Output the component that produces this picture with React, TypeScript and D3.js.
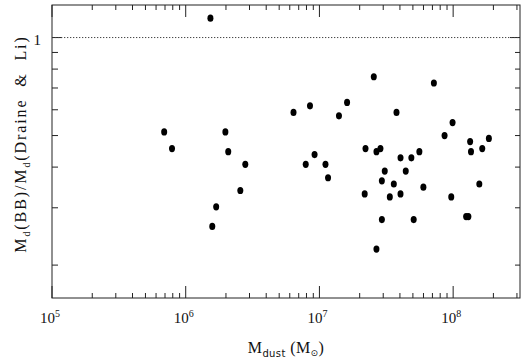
import * as d3 from "d3";

// dust mass (Msun) and ratio M_d(BB)/M_d(Draine & Li)
const mdust = [
  6.9e5, 7.9e5, 1.53e6, 1.98e6, 2.08e6, 2.79e6, 2.56e6, 1.69e6, 1.58e6,
  6.4e6, 8.5e6, 9.2e6, 7.9e6, 1.11e7, 1.16e7, 1.4e7, 1.61e7, 2.55e7,
  2.21e7, 2.67e7, 2.86e7, 4.04e7, 4.87e7, 5.59e7, 3.08e7, 4.42e7, 2.93e7,
  3.6e7, 2.18e7, 3.36e7, 4.04e7, 5.99e7, 2.93e7, 5.07e7, 2.67e7, 3.77e7,
  7.18e7, 8.63e7, 9.9e7, 1.34e8, 1.36e8, 1.65e8, 1.85e8, 1.57e8, 9.68e7,
  1.25e8, 1.3e8,
];
const ratio = [
  0.513, 0.456, 1.147, 0.513, 0.446, 0.408, 0.339, 0.302, 0.263,
  0.589, 0.617, 0.437, 0.408, 0.408, 0.371, 0.575, 0.632, 0.758,
  0.456, 0.446, 0.456, 0.427, 0.427, 0.446, 0.389, 0.389, 0.363,
  0.355, 0.331, 0.324, 0.331, 0.347, 0.276, 0.276, 0.224, 0.589,
  0.725, 0.5, 0.548, 0.479, 0.446, 0.456, 0.49, 0.355, 0.324,
  0.282, 0.282,
];

const xMajor = [1e5, 1e6, 1e7, 1e8];
const xExp = ["5", "6", "7", "8"];
const yMinor = [0.2, 0.3, 0.4, 0.5, 0.6, 0.7, 0.8, 0.9];
const yMajor = [1];

const W = 527;
const H = 362;
const left = 52, right = 520, top = 5, bottom = 298;
const font = "'Liberation Serif', 'DejaVu Serif', serif";

export default function App() {
  const x = d3.scaleLog().domain([1e5, Math.pow(10, 8.5)]).range([left, right]);
  const y = d3.scaleLog().domain([Math.pow(10, -0.8), Math.pow(10, 0.1)]).range([bottom, top]);

  const xAll = x.ticks().filter((t) => t >= 1e5 && t <= Math.pow(10, 8.5));
  const isMajor = (t: number) => xMajor.some((m) => Math.abs(m - t) / m < 1e-6);

  const stroke = "#222";

  return (
    <svg width={W} height={H} style={{ position: "absolute", left: 0, top: 0, background: "#fff" }}>
      {/* x ticks, bottom and top */}
      {xAll.map((t, i) => {
        const len = isMajor(t) ? 12 : 5;
        const px = x(t);
        return (
          <g key={"xt" + i} stroke={stroke} strokeWidth={1}>
            <line x1={px} x2={px} y1={bottom} y2={bottom - len} />
            <line x1={px} x2={px} y1={top} y2={top + len} />
          </g>
        );
      })}
      {/* y ticks, left and right */}
      {yMinor.map((t, i) => (
        <g key={"ym" + i} stroke={stroke} strokeWidth={1}>
          <line x1={left} x2={left + 6} y1={y(t)} y2={y(t)} />
          <line x1={right} x2={right - 5} y1={y(t)} y2={y(t)} />
        </g>
      ))}
      {yMajor.map((t, i) => (
        <g key={"yM" + i} stroke={stroke} strokeWidth={1}>
          <line x1={left} x2={left + 10} y1={y(t)} y2={y(t)} />
          <line x1={right} x2={right - 10} y1={y(t)} y2={y(t)} />
        </g>
      ))}

      {/* dotted line at ratio = 1 */}
      <line
        x1={left}
        x2={right}
        y1={y(1)}
        y2={y(1)}
        stroke="#444"
        strokeWidth={1}
        strokeDasharray="1.3 1.7"
      />

      {/* frame */}
      <rect x={left} y={top} width={right - left} height={bottom - top} fill="none" stroke={stroke} strokeWidth={1} />

      {/* points */}
      {mdust.map((m, i) => (
        <ellipse key={"p" + i} cx={x(m)} cy={y(ratio[i])} rx={3} ry={3.6} fill="#000" />
      ))}

      {/* x tick labels */}
      {xMajor.map((t, i) => (
        <text key={"xl" + i} x={x(t) - 2} y={323} textAnchor="middle" fontFamily={font} fontSize={15} fill="#111">
          10
          <tspan fontSize={10} dy={-6}>{xExp[i]}</tspan>
        </text>
      ))}
      {/* y tick label */}
      {yMajor.map((t, i) => (
        <text key={"yl" + i} x={41} y={y(t) + 7} textAnchor="end" fontFamily={font} fontSize={15} fill="#111">
          {t}
        </text>
      ))}

      {/* x axis title */}
      <text x={286} y={353} textAnchor="middle" fontFamily={font} fontSize={16} fill="#111" letterSpacing={0.4}>
        M
        <tspan fontSize={10} dy={4} fontFamily="'DejaVu Sans', sans-serif">dust</tspan>
        <tspan dy={-4}>{"  (M"}</tspan>
        <tspan fontSize={9} dy={3} fontFamily="'DejaVu Sans', sans-serif">⊙</tspan>
        <tspan dy={-3}>)</tspan>
      </text>

      {/* y axis title */}
      <text
        transform="translate(25.5,144) rotate(-90)"
        textAnchor="middle"
        fontFamily={font}
        fontSize={16}
        fill="#111"
        letterSpacing={1.9}
      >
        M
        <tspan fontSize={10} dy={4}>d</tspan>
        <tspan dy={-4}>(BB)/M</tspan>
        <tspan fontSize={10} dy={4}>d</tspan>
        <tspan dy={-4}>{"(Draine\u00a0\u00a0&\u00a0\u00a0Li)"}</tspan>
      </text>
    </svg>
  );
}
